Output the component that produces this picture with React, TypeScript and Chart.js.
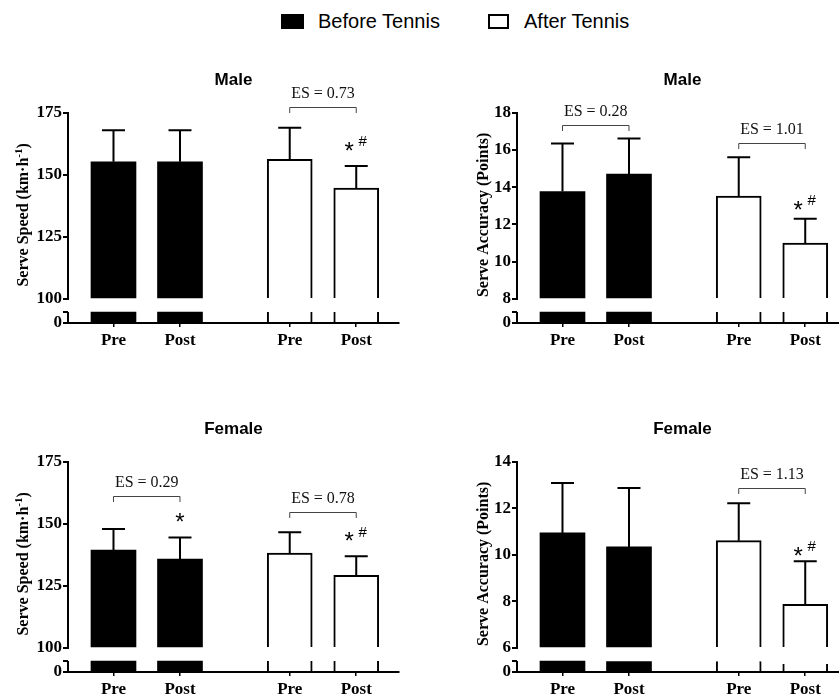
import React, { useEffect, useRef } from 'react';
import { Chart, registerables } from 'chart.js';

Chart.register(...registerables);

// ---------- data ----------
const SERIES = ['Before Tennis', 'After Tennis'];
const TIME_LABELS = ['Pre', 'Post', 'Pre', 'Post'];
const X_POS = [1, 2, 3.65, 4.65];
const SERIES_OF_BAR = [0, 0, 1, 1];

const MALE_SPEED_MEAN = [155.2, 155.2, 156.2, 144.6];
const MALE_SPEED_SD = [12.7, 12.7, 12.75, 8.9];
const MALE_ACC_MEAN = [13.77, 14.71, 13.52, 11.0];
const MALE_ACC_SD = [2.57, 1.9, 2.09, 1.3];
const FEMALE_SPEED_MEAN = [139.4, 135.8, 138.2, 129.2];
const FEMALE_SPEED_SD = [8.5, 8.7, 8.4, 7.7];
const FEMALE_ACC_MEAN = [10.94, 10.34, 10.61, 7.87];
const FEMALE_ACC_SD = [2.14, 2.53, 1.61, 1.85];

// effect-size brackets: [fromBar, toBar, bracket height (data units), label]
const MALE_SPEED_ES = [{ from: 2, to: 3, y: 177.2, label: 'ES = 0.73' }];
const MALE_ACC_ES = [
  { from: 0, to: 1, y: 17.33, label: 'ES = 0.28' },
  { from: 2, to: 3, y: 16.38, label: 'ES = 1.01' },
];
const FEMALE_SPEED_ES = [
  { from: 0, to: 1, y: 161.3, label: 'ES = 0.29' },
  { from: 2, to: 3, y: 154.6, label: 'ES = 0.78' },
];
const FEMALE_ACC_ES = [{ from: 2, to: 3, y: 12.88, label: 'ES = 1.13' }];

// significance marks: bar index, height (data units), with '#'
const MALE_SPEED_SIG = [{ bar: 3, y: 162, hash: true }];
const MALE_ACC_SIG = [{ bar: 3, y: 13.1, hash: true }];
const FEMALE_SPEED_SIG = [
  { bar: 1, y: 153.1, hash: false },
  { bar: 3, y: 145.4, hash: true },
];
const FEMALE_ACC_SIG = [{ bar: 3, y: 10.22, hash: true }];

// broken-axis lower segment (arbitrary units of the lower stub)
const LOWER_MAX = 24;
const LOWER_STUB = 11;

const SERIF = '"Liberation Serif", "Times New Roman", serif';
const SANS = '"Liberation Sans", Arial, sans-serif';

type Panel = {
  title: string;
  yTitle: { t: string; sup?: boolean }[];
  mean: number[];
  sd: number[];
  yMin: number;
  yMax: number;
  yStep: number;
  es: { from: number; to: number; y: number; label: string }[];
  sig: { bar: number; y: number; hash: boolean }[];
  left: number;
  top: number;
  yTitleOffset: number;
};

const SPEED_TITLE = [{ t: 'Serve Speed (km·h' }, { t: '-1', sup: true }, { t: ')' }];
const ACC_TITLE = [{ t: 'Serve Accuracy (Points)' }];

const PANELS: Panel[] = [
  { title: 'Male', yTitle: SPEED_TITLE, mean: MALE_SPEED_MEAN, sd: MALE_SPEED_SD, yMin: 100, yMax: 175, yStep: 25, es: MALE_SPEED_ES, sig: MALE_SPEED_SIG, left: 0, top: 0, yTitleOffset: 46 },
  { title: 'Male', yTitle: ACC_TITLE, mean: MALE_ACC_MEAN, sd: MALE_ACC_SD, yMin: 8, yMax: 18, yStep: 2, es: MALE_ACC_ES, sig: MALE_ACC_SIG, left: 449, top: 0, yTitleOffset: 35 },
  { title: 'Female', yTitle: SPEED_TITLE, mean: FEMALE_SPEED_MEAN, sd: FEMALE_SPEED_SD, yMin: 100, yMax: 175, yStep: 25, es: FEMALE_SPEED_ES, sig: FEMALE_SPEED_SIG, left: 0, top: 349, yTitleOffset: 46 },
  { title: 'Female', yTitle: ACC_TITLE, mean: FEMALE_ACC_MEAN, sd: FEMALE_ACC_SD, yMin: 6, yMax: 14, yStep: 2, es: FEMALE_ACC_ES, sig: FEMALE_ACC_SIG, left: 449, top: 349, yTitleOffset: 35 },
];

const X_MIN = 0.316;
const X_MAX = 5.293;

function makeDecor(cfg: Panel) {
  return {
    id: 'panelDecor',
    afterDraw(chart: any) {
      const ctx = chart.ctx as CanvasRenderingContext2D;
      const area = chart.chartArea;
      const xs = chart.scales.x;
      const ys = chart.scales.y;
      const y2 = chart.scales.y2;
      ctx.save();
      // lower axis stub
      ctx.strokeStyle = '#000';
      ctx.lineWidth = 2;
      ctx.beginPath();
      ctx.moveTo(area.left, y2.getPixelForValue(0) + 1);
      ctx.lineTo(area.left, y2.getPixelForValue(LOWER_STUB));
      ctx.stroke();

      // error bars (upper SD)
      cfg.mean.forEach((m, i) => {
        const px = xs.getPixelForValue(X_POS[i]);
        const pBar = ys.getPixelForValue(m);
        const pTop = ys.getPixelForValue(m + cfg.sd[i]);
        ctx.beginPath();
        ctx.moveTo(px, pBar);
        ctx.lineTo(px, pTop);
        ctx.moveTo(px - 11.5, pTop);
        ctx.lineTo(px + 11.5, pTop);
        ctx.stroke();
      });

      // title
      ctx.fillStyle = '#000';
      ctx.font = `bold 17px ${SANS}`;
      ctx.textAlign = 'center';
      ctx.textBaseline = 'middle';
      ctx.fillText(cfg.title, (area.left + area.right) / 2, area.top - 32);

      // y-axis title (rotated, with superscript)
      const cx = area.left - cfg.yTitleOffset;
      const cy = (area.top + area.bottom) / 2 - 3;
      const mainFont = `bold 16px ${SERIF}`;
      const supFont = `bold 11px ${SERIF}`;
      let total = 0;
      const widths = cfg.yTitle.map((p) => {
        ctx.font = p.sup ? supFont : mainFont;
        const w = ctx.measureText(p.t).width;
        total += w;
        return w;
      });
      ctx.save();
      ctx.translate(cx, cy);
      ctx.rotate(-Math.PI / 2);
      ctx.textAlign = 'left';
      ctx.textBaseline = 'alphabetic';
      let xx = -total / 2;
      cfg.yTitle.forEach((p, i) => {
        ctx.font = p.sup ? supFont : mainFont;
        ctx.fillText(p.t, xx, p.sup ? 0 : 5.5);
        xx += widths[i];
      });
      ctx.restore();

      // ES brackets
      cfg.es.forEach((e) => {
        const x1 = xs.getPixelForValue(X_POS[e.from]);
        const x2 = xs.getPixelForValue(X_POS[e.to]);
        const yb = Math.round(ys.getPixelForValue(e.y)) + 0.5;
        ctx.strokeStyle = '#444';
        ctx.lineWidth = 1;
        ctx.beginPath();
        ctx.moveTo(x1, yb + 5.5);
        ctx.lineTo(x1, yb);
        ctx.lineTo(x2, yb);
        ctx.lineTo(x2, yb + 5.5);
        ctx.stroke();
        ctx.fillStyle = '#111';
        ctx.font = `16px ${SERIF}`;
        ctx.textAlign = 'center';
        ctx.textBaseline = 'middle';
        ctx.fillText(e.label, (x1 + x2) / 2, yb - 13.5);
      });

      // significance marks
      cfg.sig.forEach((s) => {
        const px = xs.getPixelForValue(X_POS[s.bar]);
        const py = ys.getPixelForValue(s.y);
        ctx.fillStyle = '#000';
        ctx.textAlign = 'center';
        ctx.textBaseline = 'alphabetic';
        ctx.font = `24px ${SANS}`;
        const ax = s.hash ? px - 7 : px;
        ctx.fillText('*', ax, py + 14);
        if (s.hash) {
          ctx.font = `15px ${SANS}`;
          ctx.fillText('#', px + 6.5, py + 1.5);
        }
      });
      ctx.restore();
    },
  };
}

function buildConfig(cfg: Panel): any {
  const pts = (series: number, vals: number[]) =>
    vals
      .map((v, i) => ({ x: X_POS[i], y: v, s: SERIES_OF_BAR[i] }))
      .filter((p) => p.s === series)
      .map((p) => ({ x: p.x, y: p.y }));
  const lowerVals = cfg.mean.map((v) => Math.min(v, LOWER_STUB));
  const tickFont = { family: SERIF, weight: 'bold' as const, size: 17 };
  return {
    type: 'bar',
    data: {
      datasets: [
        { label: SERIES[0], data: pts(0, cfg.mean), yAxisID: 'y', base: cfg.yMin, backgroundColor: '#000', borderWidth: 0 },
        { label: SERIES[1], data: pts(1, cfg.mean), yAxisID: 'y', base: cfg.yMin, backgroundColor: '#fff', borderColor: '#000', borderWidth: 2, borderSkipped: 'bottom' },
        { label: SERIES[0] + ' (below break)', data: pts(0, lowerVals), yAxisID: 'y2', base: 0, backgroundColor: '#000', borderWidth: 0 },
        { label: SERIES[1] + ' (below break)', data: pts(1, lowerVals), yAxisID: 'y2', base: 0, backgroundColor: '#fff', borderColor: '#000', borderWidth: { left: 2, right: 2, top: 0, bottom: 0 }, borderSkipped: false },
      ],
    },
    options: {
      responsive: false,
      maintainAspectRatio: false,
      animation: false,
      layout: { padding: { left: 28, right: 20, top: 112.7, bottom: 0 } },
      datasets: { bar: { grouped: false, barThickness: 45 } },
      plugins: { legend: { display: false }, tooltip: { enabled: false }, title: { display: false } },
      events: [],
      scales: {
        x: {
          type: 'linear',
          offset: false,
          min: X_MIN,
          max: X_MAX,
          bounds: 'data',
          afterBuildTicks: (s: any) => {
            s.ticks = X_POS.map((v) => ({ value: v }));
          },
          afterFit: (s: any) => {
            s.height = 26;
          },
          ticks: {
            autoSkip: false,
            maxRotation: 0,
            padding: 3,
            color: '#000',
            font: tickFont,
            callback: (_v: any, i: number) => TIME_LABELS[i],
          },
          grid: { offset: false, drawOnChartArea: false, drawTicks: true, tickLength: 4, color: '#000', lineWidth: 1.5 },
          border: { display: true, color: '#000', width: 2, z: 1 },
        },
        y: {
          type: 'linear',
          position: 'left',
          stack: 'v',
          stackWeight: 186,
          weight: 2,
          min: cfg.yMin,
          max: cfg.yMax,
          afterFit: (s: any) => {
            s.width = 40;
          },
          ticks: { stepSize: cfg.yStep, autoSkip: false, padding: 1, color: '#000', font: tickFont },
          grid: { drawOnChartArea: false, drawTicks: true, tickLength: 5, color: '#000', lineWidth: 2 },
          border: { display: true, color: '#000', width: 2 },
        },
        y2: {
          type: 'linear',
          position: 'left',
          stack: 'v',
          stackWeight: 24,
          weight: 1,
          min: 0,
          max: LOWER_MAX,
          afterBuildTicks: (s: any) => {
            s.ticks = [{ value: 0 }, { value: LOWER_STUB }];
          },
          afterFit: (s: any) => {
            s.width = 40;
          },
          ticks: { autoSkip: false, padding: 1, color: '#000', font: tickFont, callback: (v: any) => (v === 0 ? '0' : '') },
          grid: { drawOnChartArea: false, drawTicks: true, tickLength: 5, color: '#000', lineWidth: 2 },
          border: { display: false },
        },
      },
    },
    plugins: [makeDecor(cfg)],
  };
}

function PanelChart({ cfg }: { cfg: Panel }) {
  const ref = useRef<HTMLCanvasElement>(null);
  useEffect(() => {
    if (!ref.current) return;
    const chart = new Chart(ref.current, buildConfig(cfg));
    return () => chart.destroy();
  }, [cfg]);
  return (
    <canvas
      ref={ref}
      width={419}
      height={349}
      style={{ position: 'absolute', left: cfg.left, top: cfg.top, width: 419, height: 349 }}
    />
  );
}

function Legend() {
  const text: React.CSSProperties = {
    position: 'absolute',
    top: 8,
    font: `20px ${SANS}`,
    lineHeight: '26px',
    color: '#000',
    whiteSpace: 'nowrap',
  };
  return (
    <>
      <div style={{ position: 'absolute', left: 281, top: 14, width: 23, height: 15, background: '#000' }} />
      <div style={{ ...text, left: 318 }}>{SERIES[0]}</div>
      <div style={{ position: 'absolute', left: 488, top: 14, width: 21, height: 15, border: '2px solid #000', boxSizing: 'border-box', background: '#fff' }} />
      <div style={{ ...text, left: 524 }}>{SERIES[1]}</div>
    </>
  );
}

export default function App() {
  return (
    <div style={{ position: 'fixed', left: 0, top: 0, width: 839, height: 695, overflow: 'hidden', background: '#fff' }}>
      <Legend />
      {PANELS.map((p, i) => (
        <PanelChart key={i} cfg={p} />
      ))}
    </div>
  );
}
